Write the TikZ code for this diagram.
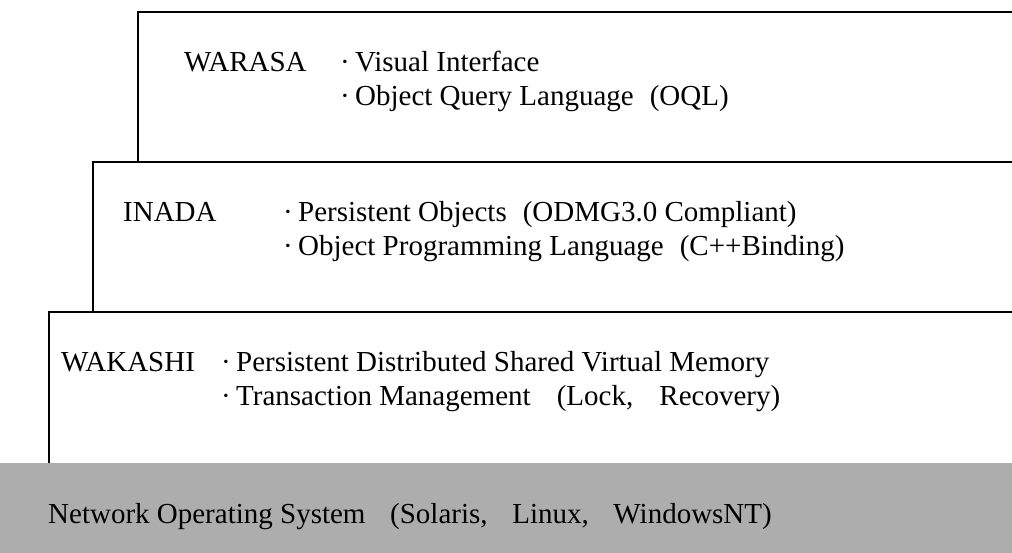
\documentclass[tikz,border=0pt]{standalone}
\usepackage{fontspec}
\setmainfont{Liberation Serif}
\usetikzlibrary{positioning}

% list dot and the gap before a bracket
\newcommand{\itm}{\makebox[15pt][l]{\raisebox{.02em}{·}}}
\newcommand{\gap}[1][.55em]{\hspace{#1}}

\begin{document}
\begin{tikzpicture}[x=1pt,y=1pt,
  layer/.style={line width=1.2pt},
  every node/.style={font=\fontsize{29}{31}\selectfont,inner sep=0pt,anchor=base west}]
  \useasboundingbox (0,0) rectangle (1012,553);
  % network OS band
  \fill[black!32] (0,0) rectangle (1012,90);
  % the three layers, open to the right
  \draw[layer] (1012,541) -| (138,391) -- (1012,391);
  \draw[layer] (138,391) -| (93,241) -- (1012,241);
  \draw[layer] (93,241) -| (49,90);
  % WARASA
  \node (warasa) at (184,481) {WARASA};
  \node (warasaA) at (340,481) {\itm Visual Interface};
  \node (warasaB) at (340,447) {\itm Object Query Language\gap(OQL)};
  % INADA
  \node (inada) at (123,331) {INADA};
  \node (inadaA) at (283,331) {\itm Persistent Objects\gap(ODMG3.0 Compliant)};
  \node (inadaB) at (283,297) {\itm Object Programming Language\gap(C++Binding)};
  % WAKASHI
  \node (wakashi) at (61,181) {WAKASHI};
  \node (wakashiA) at (221,181) {\itm Persistent Distributed Shared Virtual Memory};
  \node (wakashiB) at (221,147) {\itm Transaction Management\gap[.9em](Lock,\gap[.9em]Recovery)};
  % OS
  \node (nos) at (48,29) {Network Operating System\gap[.85em](Solaris,\gap[.85em]Linux,\gap[.85em]WindowsNT)};
\end{tikzpicture}
\end{document}
